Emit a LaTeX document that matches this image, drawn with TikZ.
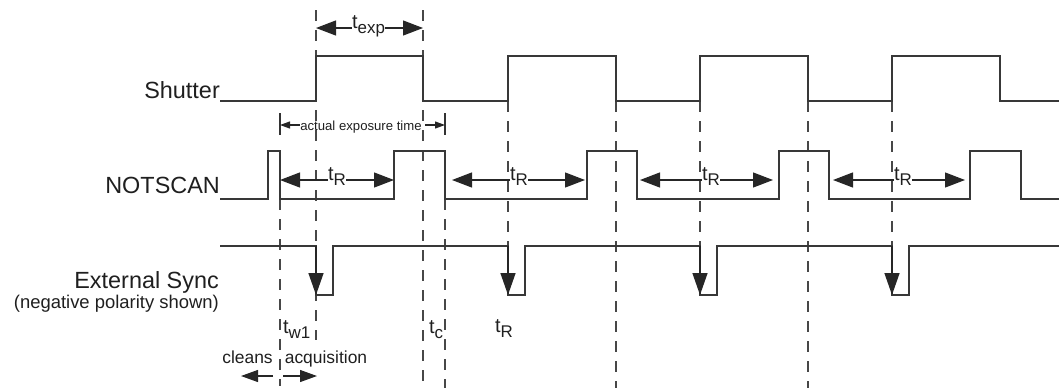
\documentclass[tikz,border=0pt]{standalone}
\usepackage{fontspec}
\setmainfont{Liberation Sans}
\usetikzlibrary{arrows.meta}
\newcommand{\tlbl}[1]{t\raisebox{-5bp}{\fontsize{17}{17}\selectfont #1}}
\begin{document}
\begin{tikzpicture}[x=1bp,y=-1bp,
  wave/.style={line width=1.4bp, draw=black!78, line join=miter},
  guide/.style={line width=1.2bp, draw=black!72, dash pattern=on 11bp off 9bp},
  big/.style={font=\fontsize{23.5}{24}\selectfont, text=black!88, inner sep=0},
  mid/.style={font=\fontsize{18.5}{19}\selectfont, text=black!88, inner sep=0},
  small/.style={font=\fontsize{13.2}{14}\selectfont, text=black!88, inner sep=0},
  tlab/.style={font=\fontsize{20}{20}\selectfont, text=black!88, inner sep=0, anchor=base west},
  dim/.style={line width=1.2bp, draw=black!85, -{Triangle[length=20bp,width=15bp]}},
  dimsm/.style={line width=1.1bp, draw=black!85, -{Triangle[length=10bp,width=7bp]}},
  dimmd/.style={line width=1.2bp, draw=black!85, -{Triangle[length=17bp,width=12bp]}},
  syncarr/.style={line width=1.4bp, draw=black!85, -{Triangle[length=22bp,width=15bp]}},
  tick/.style={line width=1.2bp, draw=black!80}
]
\useasboundingbox (0,0) rectangle (1059,388);

% guide (dashed) lines
\draw[guide] (316,10) -- (316,340);
\draw[guide] (423,10) -- (423,388);
\draw[guide] (280,199) -- (280,386);
\draw[guide] (445,199) -- (445,388);
\foreach \x in {508,700,892} {\draw[guide] (\x,101) -- (\x,246);}
\foreach \x in {616,808} {\draw[guide] (\x,101) -- (\x,388);}

% labels on the left
\node[big, anchor=base east] (shl) at (220,98) {Shutter};
\node[big, anchor=base east] (nsl) at (220,193) {NOTSCAN};
\node[big, anchor=base east] (esl) at (219,288) {External Sync};
\node[mid, anchor=base east] (npl) at (219,308) {(negative polarity shown)};

% Shutter waveform
\draw[wave] (220,101) -| (316,56) -| (423,101) -| (508,56) -| (616,101)
  -| (700,56) -| (808,101) -| (892,56) -| (1000,101) -- (1059,101);

% NOTSCAN waveform
\draw[wave] (220,199) -| (268,151) -| (280,199) -| (394,151) -| (445,199)
  -| (587,151) -| (637,199) -| (779,151) -| (829,199) -| (970,151)
  -| (1021,199) -- (1059,199);

% External Sync waveform
\draw[wave] (220,246) -- (316,246) -- (316,295) -- (333,295) -- (333,246)
  -- (508,246) -- (508,295) -- (525,295) -- (525,246)
  -- (700,246) -- (700,295) -- (717,295) -- (717,246)
  -- (892,246) -- (892,295) -- (909,295) -- (909,246) -- (1059,246);
\foreach \x [count=\i] in {316,508,700,892} {
  \coordinate (st\i) at (\x,246);
  \coordinate (sb\i) at (\x,295);
  \draw[syncarr] (st\i) -- (sb\i);
}

% t_exp
\node[tlab] (texp) at (352,28) {\tlbl{exp}};
\coordinate (texpL) at (316,28);
\coordinate (texpR) at (423,28);
\draw[dim] (texp.base west) -- (texpL);
\draw[dim] (texp.base east) -- (texpR);

% actual exposure time
\coordinate (aL) at (280,125);
\coordinate (aR) at (445,125);
\draw[tick] (280,113) -- (280,135);
\draw[tick] (445,113) -- (445,135);
\node[small, anchor=base] (aet) at (361,130) {actual exposure time};
\draw[dimsm] (aet.west |- aL) -- (aL);
\draw[dimsm] ([xshift=3bp]aet.east |- aR) -- (aR);

% t_R in NOTSCAN
\foreach \tx/\l/\r [count=\i] in {328/280/394, 510/452/585, 702/640/773, 894/833/965} {
  \node[tlab] (tr\i) at (\tx,180) {\tlbl{R}};
  \coordinate (trL\i) at (\l,180);
  \coordinate (trR\i) at (\r,180);
  \draw[dim] (tr\i.base west) -- (trL\i);
  \draw[dim] (tr\i.base east) -- (trR\i);
}

% bottom labels
\node[tlab] (tw1) at (283,333) {\tlbl{w1}};
\node[tlab] (tc) at (429,333) {\tlbl{c}};
\node[tlab] (trs) at (495,332) {\tlbl{R}};
\node[font=\fontsize{17.5}{18}\selectfont, text=black!88, inner sep=0, anchor=base] (cl) at (247.5,363) {cleans};
\node[font=\fontsize{17.5}{18}\selectfont, text=black!88, inner sep=0, anchor=base] (acq) at (326,363) {acquisition};
\coordinate (clS) at (273,376);
\coordinate (clE) at (241,376);
\coordinate (acS) at (283,376);
\coordinate (acE) at (317,376);
\draw[dimmd] (clS) -- (clE);
\draw[dimmd] (acS) -- (acE);
\end{tikzpicture}
\end{document}
